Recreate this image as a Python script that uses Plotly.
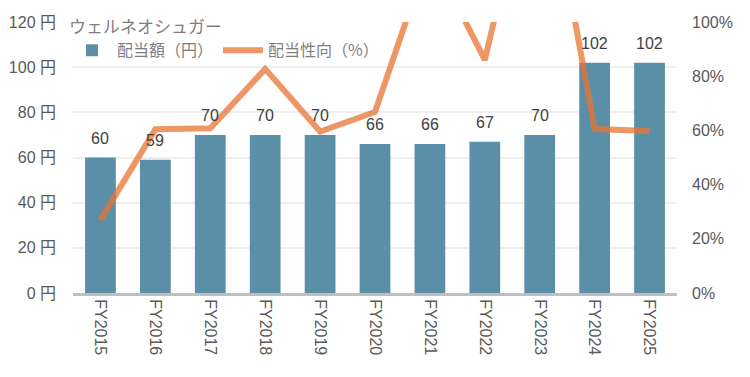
import plotly.graph_objects as go

categories = ["FY2015", "FY2016", "FY2017", "FY2018", "FY2019", "FY2020",
              "FY2021", "FY2022", "FY2023", "FY2024", "FY2025"]
dividend = [60, 59, 70, 70, 70, 66, 66, 67, 70, 102, 102]
payout = [27, 60.4, 60.8, 82.7, 59.6, 66.8, 126, 86, 172, 60.5, 59.8]
company = "ウェルネオシュガー"

FONT = "Liberation Sans, Noto Sans CJK JP, sans-serif"
JP = "Noto Sans CJK JP"
GRAY = "#595959"

fig = go.Figure()
fig.add_trace(go.Bar(
    x=categories, y=dividend, name="配当額（円）",
    marker=dict(color="#5b8fa8", line=dict(width=0)),
    yaxis="y",
))
fig.add_trace(go.Scatter(
    x=categories, y=payout, name="配当性向（%）", mode="lines",
    line=dict(color="rgb(234,116,51)", width=6),
    opacity=0.75, yaxis="y2",
))

for c, v in zip(categories, dividend):
    fig.add_annotation(x=c, y=v, xref="x", yref="y", text=str(v),
                       showarrow=False, yanchor="bottom", yshift=9,
                       font=dict(size=16, color="#404040", family=FONT))

# the page body has an 8px margin, so the figure is 8px smaller and offset
fig.update_layout(
    width=742, height=369,
    margin=dict(l=65, r=73, t=14, b=84, autoexpand=False),
    paper_bgcolor="white", plot_bgcolor="white",
    bargap=0.44,
    font=dict(family=FONT, color=GRAY, size=14),
    showlegend=True,
    legend=dict(
        title=dict(text=company, side="top",
                   font=dict(size=17, color="#7f7f7f", family=JP)),
        orientation="h", x=-0.01, xanchor="left", y=1.04, yanchor="top",
        bgcolor="rgba(0,0,0,0)",
        font=dict(size=16, color="#7f7f7f", family=JP),
        itemwidth=40, tracegroupgap=0,
    ),
    xaxis=dict(
        type="category", tickangle=90,
        tickfont=dict(size=16, color=GRAY),
        showline=True, linecolor="#bfbfbf", linewidth=3,
        showgrid=False, ticks="",
    ),
    yaxis=dict(
        range=[0, 120], dtick=20, ticksuffix=" 円",
        tickfont=dict(size=16, color=GRAY),
        showgrid=True, gridcolor="#efefef", gridwidth=1.5,
        zeroline=False, ticklabelstandoff=16,
    ),
    yaxis2=dict(
        range=[0, 100], dtick=20, ticksuffix="%",
        overlaying="y", side="right",
        tickfont=dict(size=16, color=GRAY),
        showgrid=False, zeroline=False, ticklabelstandoff=14,
    ),
)

fig.write_html("out.html")
